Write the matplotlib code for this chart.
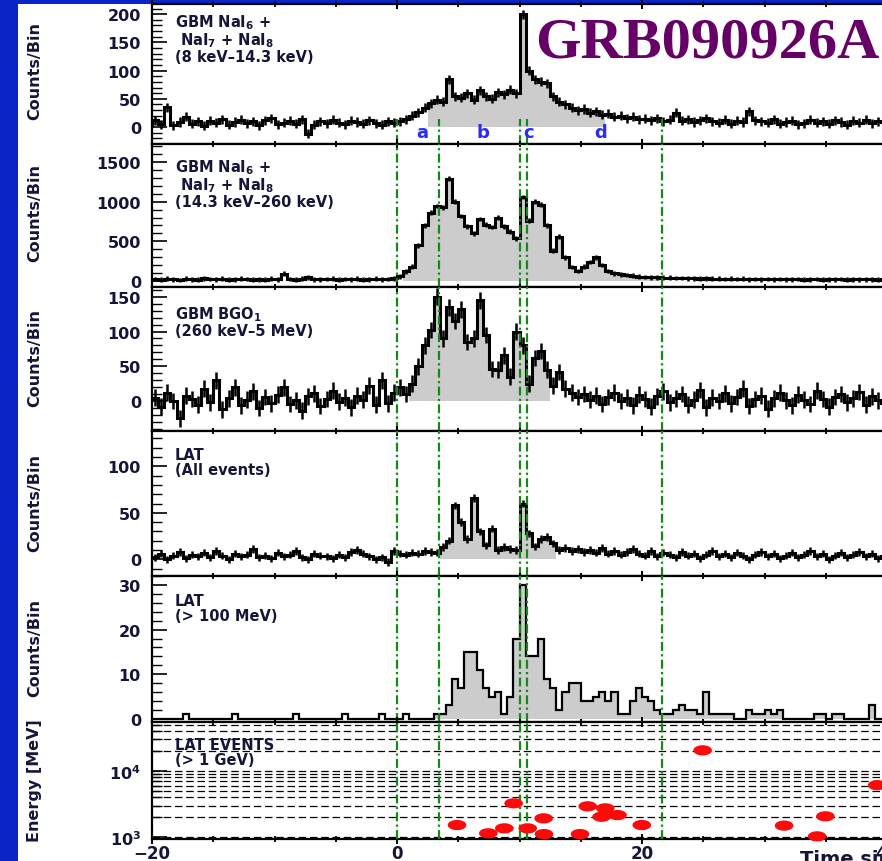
import numpy as np
import matplotlib.pyplot as plt
from matplotlib.patches import Rectangle
from matplotlib.ticker import MultipleLocator, LogLocator, NullFormatter

plt.rcParams['font.family'] = 'DejaVu Sans'
plt.rcParams['font.weight'] = 'bold'

# light curves: 0.5 s bins starting at -20 s
bin_start = -20.0
bin_width = 0.5

nai_low = [12, 5, 35, 3, 9, 18, 6, 10, 2, 11, 8, 14, 4, 9, 13, 7, 10, 3, 12, 16,
           5, 8, 11, 6, 14, -12, 4, 10, 7, 13, 8, 5, 11, 9, 6, 12, 7, 4, 10, 8,
           10, 14, 20, 26, 34, 42, 48, 45, 85, 55, 52, 60, 48, 65, 55, 50, 62, 58, 66, 60,
           200, 100, 85, 80, 78, 55, 45, 40, 34, 30, 32, 25, 28, 22, 24, 18, 20, 16, 18, 14,
           15, 12, 16, 10, 13, 25, 11, 14, 9, 12, 16, 10, 8, 13, 6, 11, 9, 28, 12, 10,
           8, 14, 6, 9, 11, 5, 7, 13, 8, 10, 6, 12, 9, 4, 11, 8, 13, 7, 10, 9]

nai_mid = [25, 18, 30, 22, 12, 28, 20, 15, 33, 24, 19, 27, 14, 22, 31, 26, 18, 23, 16, 29,
           21, 90, 24, 17, 28, 45, 22, 19, 26, 30, 15, 24, 20, 27, 18, 23, 29, 21, 26, 34,
           60, 120, 180, 450, 700, 860, 945, 930, 1290, 1000, 820, 690, 600, 780, 710, 680, 800, 690, 620, 540,
           1060, 760, 1000, 960, 700, 380, 560, 300, 176, 126, 180, 240, 300, 200, 126, 95, 85, 75, 65, 55,
           50, 45, 48, 40, 42, 36, 38, 33, 35, 30, 32, 28, 30, 25, 29, 24, 27, 22, 26, 23,
           25, 20, 24, 19, 22, 26, 18, 21, 24, 17, 22, 20, 25, 18, 21, 23, 19, 22, 17, 20]

bgo = [5, -8, 12, 0, -25, 8, 3, -5, 18, -2, 30, -12, 4, 20, -6, 2, 14, -10, 6, -3,
       9, 20, -4, 1, -14, 7, 11, -7, 3, 15, -1, 5, -9, 8, 2, 22, -5, 30, -3, 12,
       20, 10, 25, 50, 80, 102, 150, 90, 135, 115, 132, 85, 90, 145, 95, 46, 45, 66, 35, 100,
       80, 25, 62, 72, 45, 22, 42, 18, 12, 6, 10, 2, 8, -4, 6, 12, 0, 5, -6, 9,
       3, -8, 7, 14, -2, 4, 10, -5, 2, 16, -9, 5, 0, 11, -3, 6, 18, -7, 3, 8,
       -11, 4, 12, 1, -6, 9, 2, -4, 15, 3, -8, 6, 10, -2, 4, 13, -5, 7, 1, -3]

lat_all = [2, 6, 0, 4, 8, 1, 5, 3, 7, 2, 9, 4, 0, 6, 3, 5, 11, 2, 4, 1,
           7, 3, 5, 9, 2, 0, 6, 4, 3, 1, 5, 2, 8, 10, 6, 3, 0, 2, -3, 9,
           6, 5, 7, 6, 9, 8, 7, 13, 20, 58, 40, 22, 66, 30, 15, 33, 10, 13, 11, 10,
           60, 28, 14, 22, 24, 17, 10, 12, 9, 11, 8, 10, 7, 12, 6, 9, 5, 8, 11, 6,
           4, 9, 3, 7, 5, 2, 8, 4, 6, 1, 5, 9, 3, 6, 2, 7, 4, 0, 5, 8,
           3, 6, 1, 4, 7, 2, 5, 9, 3, 6, 0, 4, 7, 2, 5, 8, 3, 6, 1, 4]

lat_100 = [0, 0, 0, 0, 0, 1, 0, 0, 0, 0,
           0, 0, 0, 1, 0, 0, 0, 0, 0, 0,
           0, 0, 0, 1, 0, 0, 0, 0, 0, 0,
           0, 1, 0, 0, 0, 0, 0, 1, 0, 0,
           0, 1, 0, 0, 0, 0, 1, 1, 3, 9,
           7, 15, 15, 11, 7, 5, 6, 1, 5, 18,
           30, 14, 14, 18, 9, 7, 2, 6, 8, 8,
           4, 4, 5, 6, 4, 6, 1, 1, 4, 7,
           5, 4, 2, 1, 1, 2, 3, 2, 2, 1,
           6, 1, 1, 1, 1, 0, 0, 2, 1, 1,
           2, 1, 2, 0, 0, 0, 0, 0, 1, 1,
           0, 1, 1, 0, 0, 0, 0, 3, 0, 0]

# LAT events above 1 GeV
event_time = [4.9, 7.45, 8.76, 9.52, 10.67, 11.97, 12.0, 14.94, 15.57, 16.7, 17.0, 18.0,
              19.98, 24.95, 31.6, 34.3, 34.97, 39.2]
event_energy = [1520, 1140, 1355, 3240, 1355, 1920, 1110, 1110, 2920, 2030, 2720, 2150,
                1520, 20500, 1490, 1025, 2060, 6100]

interval_edges = [0.0, 3.45, 10.0, 10.65, 21.65]
interval_names = ['a', 'b', 'c', 'd']
interval_label_t = [2.1, 7.0, 10.7, 16.6]

panel_labels = ['GBM NaI$_\\mathbf{6}$ +\n NaI$_\\mathbf{7}$ + NaI$_\\mathbf{8}$\n(8 keV\u201314.3 keV)',
                'GBM NaI$_\\mathbf{6}$ +\n NaI$_\\mathbf{7}$ + NaI$_\\mathbf{8}$\n(14.3 keV\u2013260 keV)',
                'GBM BGO$_\\mathbf{1}$\n(260 keV\u20135 MeV)',
                'LAT\n(All events)',
                'LAT\n(> 100 MeV)',
                'LAT EVENTS\n(> 1 GeV)']

W, H = 882, 862
fig = plt.figure(figsize=(W / 100, H / 100), dpi=100, facecolor='#0a24c8')
fig.add_artist(Rectangle((18 / W, 0), 1, 1 - 5 / H, transform=fig.transFigure,
                         facecolor='white', edgecolor='none', zorder=-1))

txt_col = '#15153a'
green = '#138a13'
xlim = (-20, 45)
px_per_s = 12.25
left_px = 152
panel_px = [(5, 145), (145, 288), (288, 432), (432, 577), (577, 723), (723, 840)]
ylims = [(-30, 218), (-76, 1727), (-43, 164), (-18, 138), (-0.7, 32), (935, 55000)]
ysteps = [(50, 10), (500, 100), (50, 10), (50, 10), (10, 2), None]
fills = [(2.5, 17.0), (0.5, 21.5), (1.0, 12.5), (3.5, 13.0), (3.0, 45)]
errs = [8, 30, 12, 4, 0]
label_top = [13, 158, 305, 448, 594, 738]
ylab_y = [71, 213, 358, 503, 648, 781]

axes = []
for k, (top, bot) in enumerate(panel_px):
    ax = fig.add_axes([left_px / W, 1 - bot / H,
                       (xlim[1] - xlim[0]) * px_per_s / W, (bot - top) / H])
    ax.set_xlim(*xlim)
    ax.set_ylim(*ylims[k])
    ax.xaxis.set_major_locator(MultipleLocator(20))
    ax.xaxis.set_minor_locator(MultipleLocator(5))
    ax.tick_params(axis='x', which='both', direction='inout', top=True, bottom=True,
                   labelbottom=(k == 5), labelsize=12, labelcolor=txt_col, pad=0)
    ax.tick_params(axis='x', which='major', length=7, width=1.4)
    ax.tick_params(axis='x', which='minor', length=5, width=1.3)
    ax.tick_params(axis='y', which='both', direction='in', left=True, right=False,
                   labelsize=11.5, labelcolor=txt_col, pad=8)
    ax.tick_params(axis='y', which='major', length=11, width=1.2)
    ax.tick_params(axis='y', which='minor', length=7, width=1.0)
    for s in ax.spines.values():
        s.set_linewidth(1.6)
    if ysteps[k]:
        ax.yaxis.set_major_locator(MultipleLocator(ysteps[k][0]))
        ax.yaxis.set_minor_locator(MultipleLocator(ysteps[k][1]))
    fig.text(175 / W, 1 - label_top[k] / H, panel_labels[k], va='top', ha='left',
             fontsize=10.5, color=txt_col, linespacing=1.0)
    fig.text(35 / W, 1 - ylab_y[k] / H, 'Energy [MeV]' if k == 5 else 'Counts/Bin',
             rotation=90, ha='center', va='center', fontsize=11.5, color=txt_col)
    axes.append(ax)

curves = [nai_low, nai_mid, bgo, lat_all, lat_100]
for k, counts in enumerate(curves):
    ax = axes[k]
    counts = np.asarray(counts, float)
    edges = bin_start + bin_width * np.arange(len(counts) + 1)
    centers = edges[:-1] + bin_width / 2
    sel = (edges[:-1] >= fills[k][0]) & (edges[1:] <= fills[k][1])
    ax.bar(edges[:-1][sel], counts[sel], width=bin_width, align='edge',
           color='#cccccc', lw=0, zorder=1)
    if k < 4:
        ax.stairs(counts, edges, color='black', lw=2.2, zorder=3)
        ax.errorbar(centers, counts, yerr=errs[k], fmt='none', ecolor='black',
                    elinewidth=1.8, zorder=3)
    else:
        ax.stairs(counts, edges, color='black', lw=1.6, baseline=0, zorder=3)

# event panel
ax6 = axes[5]
ax6.set_yscale('log')
ax6.set_ylim(*ylims[5])
ax6.set_yticks([1e3, 1e4])
ax6.set_yticklabels([r'$\mathbf{10^3}$', r'$\mathbf{10^4}$'])
ax6.yaxis.set_minor_locator(LogLocator(base=10, subs=range(2, 10)))
ax6.yaxis.set_minor_formatter(NullFormatter())
ax6.set_xticks([-20, 0, 20, 40])
ax6.set_xticklabels(['\u221220', '0', '20', '40'])
ax6.grid(True, axis='y', which='both', color='black', lw=0.9, ls=(0, (6, 3)))
theta = np.linspace(0, 2 * np.pi, 40)
ellipse = np.column_stack([np.cos(theta), 0.55 * np.sin(theta)])
ax6.scatter(event_time, event_energy, marker=ellipse, s=180, color='#ff0a0a',
            edgecolors='none', zorder=5, clip_on=False)

# interval boundaries
for k, ax in enumerate(axes):
    for t in interval_edges:
        ax.axvline(t, ymin=0, ymax=(0.18 if k == 0 else 1), color=green, lw=1.6,
                   ls=(0, (4, 1.5, 1, 1.5)), zorder=4)
for name, t in zip(interval_names, interval_label_t):
    axes[0].text(t, -8, name, ha='center', va='center', fontsize=13,
                 color='#2a2aff', zorder=5)

fig.text(535 / W, 1 - 57 / H, 'GRB090926A', family='Liberation Serif', fontsize=42,
         color='#660066', va='baseline', ha='left')
fig.text(800 / W, 1 - 850 / H, 'Time since GBM trigger [s]', fontsize=14,
         color=txt_col, va='top', ha='left')

fig.savefig('out.png', dpi=100, facecolor=fig.get_facecolor())
